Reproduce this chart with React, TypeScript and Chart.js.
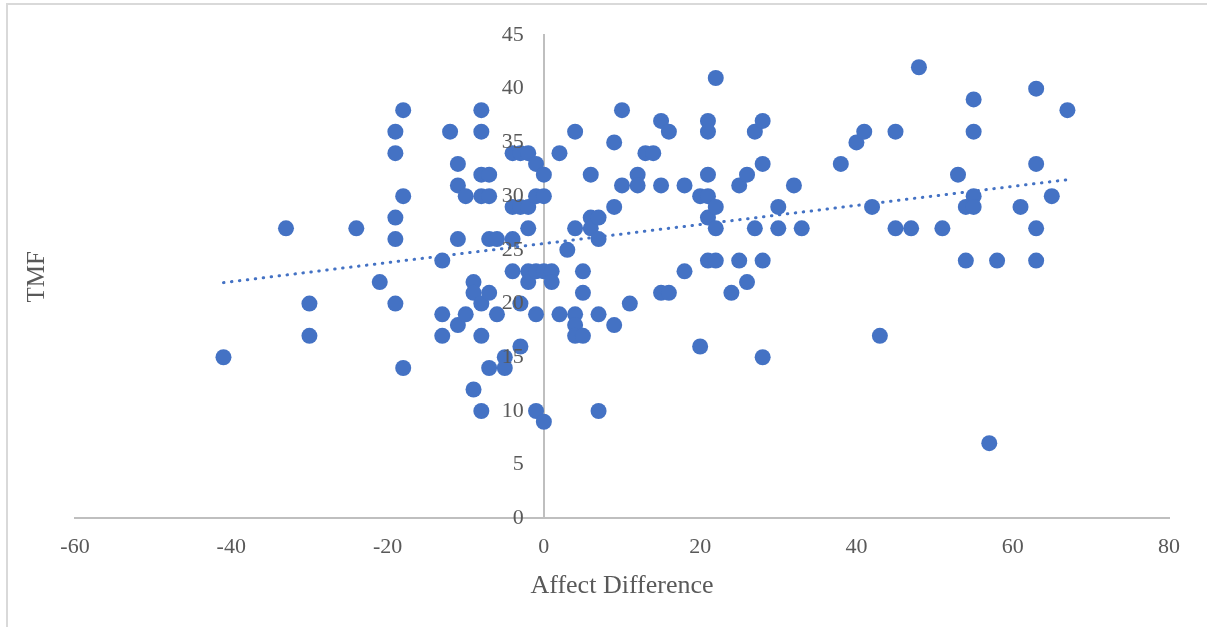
import React, { useEffect, useRef } from "react";
import { Chart, registerables } from "chart.js";

Chart.register(...registerables);

// Affect Difference (x) and TMF (y) for each participant
const affectDifference: number[] = [
  -41, -33, -30, -30, -24, -21, -19, -19, -19, -19, -19, -18, -18, -18,
  -13, -13, -13, -12, -11, -11, -11, -11, -10, -10, -9, -9, -9,
  -8, -8, -8, -8, -8, -8, -8, -7, -7, -7, -7, -7, -6, -6, -5, -5,
  -4, -4, -4, -4, -3, -3, -3, -3, -2, -2, -2, -2, -2,
  -1, -1, -1, -1, -1, 0, 0, 0, 0, 1, 1, 2, 2, 3,
  4, 4, 4, 4, 4, 5, 5, 5, 6, 6, 6, 7, 7, 7, 7,
  9, 9, 9, 10, 10, 11, 12, 12, 13, 14, 15, 15, 15, 16, 16, 18, 18,
  20, 20, 21, 21, 21, 21, 21, 21, 22, 22, 22, 22, 24, 25, 25, 26, 26,
  27, 27, 28, 28, 28, 28, 30, 30, 32, 33, 38, 40, 41, 42, 43, 45, 45, 47, 48,
  51, 53, 54, 54, 55, 55, 55, 55, 57, 58, 61, 63, 63, 63, 63, 65, 67,
];

const tmfScores: number[] = [
  15, 27, 20, 17, 27, 22, 36, 34, 28, 26, 20, 38, 30, 14,
  24, 19, 17, 36, 33, 31, 26, 18, 30, 19, 22, 21, 12,
  38, 36, 32, 30, 20, 17, 10, 32, 30, 26, 21, 14, 26, 19, 15, 14,
  34, 29, 26, 23, 34, 29, 20, 16, 34, 29, 27, 23, 22,
  33, 30, 23, 19, 10, 32, 30, 23, 9, 23, 22, 34, 19, 25,
  36, 27, 19, 18, 17, 23, 21, 17, 32, 28, 27, 28, 26, 19, 10,
  35, 29, 18, 38, 31, 20, 32, 31, 34, 34, 37, 31, 21, 36, 21, 31, 23,
  30, 16, 37, 36, 32, 30, 28, 24, 41, 29, 27, 24, 21, 31, 24, 32, 22,
  36, 27, 37, 33, 24, 15, 29, 27, 31, 27, 33, 35, 36, 29, 17, 36, 27, 27, 42,
  27, 32, 29, 24, 39, 36, 30, 29, 7, 24, 29, 40, 33, 27, 24, 30, 38,
];

const xTitle = "Affect Difference";
const yTitle = "TMF";
const xMin = -60;
const xMax = 80;
const xStep = 20;
const yMin = 0;
const yMax = 45;
const yStep = 5;

const TEXT = "#595959";
const AXIS = "#bfbfbf";
const BLUE = "#4472C4";
const FONT = "'Liberation Serif', 'Times New Roman', serif";

export default function App() {
  const ref = useRef<HTMLCanvasElement>(null);

  useEffect(() => {
    if (!ref.current) return;
    const points = affectDifference.map((x, i) => ({ x, y: tmfScores[i] }));
    const n = points.length;
    const mx = affectDifference.reduce((a, b) => a + b, 0) / n;
    const my = tmfScores.reduce((a, b) => a + b, 0) / n;
    let sxy = 0;
    let sxx = 0;
    points.forEach((p) => {
      sxy += (p.x - mx) * (p.y - my);
      sxx += (p.x - mx) * (p.x - mx);
    });
    const slope = sxy / sxx;
    const intercept = my - slope * mx;
    const lo = Math.min(...affectDifference);
    const hi = Math.max(...affectDifference);
    const trend = [
      { x: lo, y: intercept + slope * lo },
      { x: hi, y: intercept + slope * hi },
    ];

    // Draws the y tick labels beside the y axis (which crosses at x = 0) and the y title.
    const textPlugin = {
      id: "yTexts",
      afterDraw(chart: any) {
        const { ctx, chartArea, scales } = chart;
        const xs = scales.x;
        const ys = scales.y;
        ctx.save();
        ctx.font = `22px ${FONT}`;
        ctx.fillStyle = TEXT;
        ctx.textAlign = "right";
        ctx.textBaseline = "middle";
        const ax = xs.getPixelForValue(0);
        ys.ticks.forEach((t: any) => {
          ctx.fillText(String(t.value), ax - 20, ys.getPixelForValue(t.value));
        });
        ctx.restore();

        ctx.save();
        ctx.translate(37, (chartArea.top + chartArea.bottom) / 2);
        ctx.rotate(-Math.PI / 2);
        ctx.font = `25px ${FONT}`;
        ctx.fillStyle = TEXT;
        ctx.textAlign = "center";
        ctx.textBaseline = "middle";
        ctx.fillText(yTitle, 0, 0);
        ctx.restore();
      },
    };

    const chart = new Chart(ref.current, {
      type: "scatter",
      data: {
        datasets: [
          {
            label: yTitle,
            data: points,
            backgroundColor: BLUE,
            borderColor: BLUE,
            borderWidth: 0,
            pointRadius: 8,
            pointHoverRadius: 8,
            order: 0,
          },
          {
            label: "Linear (" + yTitle + ")",
            data: trend,
            showLine: true,
            pointRadius: 0,
            pointHoverRadius: 0,
            borderColor: BLUE,
            borderWidth: 3,
            borderDash: [0.5, 7.5],
            borderCapStyle: "round",
            fill: false,
            order: 1,
          } as any,
        ],
      },
      options: {
        responsive: false,
        animation: false,
        layout: { padding: { left: 75, right: 38, top: 35, bottom: 25 } },
        plugins: {
          legend: { display: false },
          tooltip: { enabled: false },
        },
        scales: {
          x: {
            type: "linear",
            position: "bottom",
            min: xMin,
            max: xMax,
            ticks: {
              stepSize: xStep,
              padding: 16,
              color: TEXT,
              font: { family: FONT, size: 22 },
            },
            grid: { display: false, drawTicks: false },
            border: { color: AXIS, width: 2 },
            title: {
              display: true,
              text: xTitle,
              color: TEXT,
              font: { family: FONT, size: 26 },
              padding: { top: -6, bottom: 0 },
            },
          },
          y: {
            type: "linear",
            position: { x: 0 } as any,
            min: yMin,
            max: yMax,
            ticks: {
              stepSize: yStep,
              display: false,
            },
            grid: { display: false, drawTicks: false },
            border: { color: AXIS, width: 2 },
          },
        },
      },
      plugins: [textPlugin],
    });
    return () => chart.destroy();
  }, []);

  return (
    <div style={{ position: "fixed", left: 0, top: 0, width: 1207, height: 627, background: "#fff" }}>
      <div
        style={{
          position: "absolute",
          left: 6,
          top: 3,
          width: 1240,
          height: 660,
          borderLeft: "2px solid #d9d9d9",
          borderTop: "2px solid #d9d9d9",
        }}
      />
      <canvas
        ref={ref}
        width={1207}
        height={627}
        style={{ position: "absolute", left: 0, top: 0, width: 1207, height: 627 }}
      />
    </div>
  );
}
